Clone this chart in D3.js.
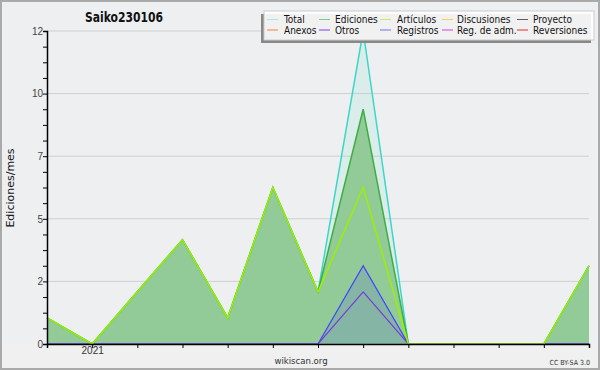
<!DOCTYPE html>
<html>
<head>
<meta charset="utf-8">
<script src="https://cdn.jsdelivr.net/npm/d3@7"></script>
<style>
  body { margin: 0; background: #f0f0f0; }
  svg { display: block; font-family: "DejaVu Sans Condensed", "DejaVu Sans", sans-serif; }
</style>
</head>
<body>
<div id="chart"></div>
<script>
// Data: monthly edits, Dec 2020 .. Dec 2021
const months = ['2020-12', '2021-01', '2021-02', '2021-03', '2021-04', '2021-05', '2021-06',
    '2021-07', '2021-08', '2021-09', '2021-10', '2021-11', '2021-12'];
const total     = [1, 0, 2, 4, 1, 6, 2, 12, 0, 0, 0, 0, 3];
const ediciones = [1, 0, 2, 4, 1, 6, 2, 9, 0, 0, 0, 0, 3];
const articulos = [1, 0, 2, 4, 1, 6, 2, 6, 0, 0, 0, 0, 3];
const registros = [0, 0, 0, 0, 0, 0, 0, 3, 0, 0, 0, 0, 0];
const otros     = [0, 0, 0, 0, 0, 0, 0, 2, 0, 0, 0, 0, 0];
const yTicks = [0, 2.4, 4.8, 7.2, 9.6, 12];
const xLabels = { '2021-01': '2021' };

const legendNames = ['Total', 'Ediciones', 'Artículos', 'Discusiones', 'Proyecto',
    'Anexos', 'Otros', 'Registros', 'Reg. de adm.', 'Reversiones'];
const legendColors = ['#a8e6e0', '#80cc8c', '#c4ee5a', '#f2d060', '#606060',
    '#f08040', '#8040e0', '#7070f0', '#d040e0', '#e03030'];

const W = 600, H = 370;
const margin = { left: 47, right: 11, top: 31, bottom: 26 };

const svg = d3.select('#chart').append('svg')
    .attr('width', W)
    .attr('height', H);

// background + frame
svg.append('rect').attr('x', 0).attr('y', 0).attr('width', W).attr('height', H)
    .attr('fill', '#eeeff1');
svg.append('rect').attr('x', 0).attr('y', H - margin.bottom).attr('width', W).attr('height', margin.bottom)
    .attr('fill', '#f0f0f0');
svg.append('rect').attr('x', 1).attr('y', 1).attr('width', W - 2).attr('height', H - 2)
    .attr('fill', 'none').attr('stroke', '#aaa').attr('stroke-width', 2);

const x = d3.scalePoint()
    .domain(months)
    .range([margin.left, W - margin.right]);

const y = d3.scaleLinear()
    .domain([0, 12])
    .range([H - margin.bottom, margin.top]);

// gridlines
svg.append('g')
    .selectAll('line')
    .data(yTicks.slice(1))
    .join('line')
    .attr('x1', margin.left).attr('x2', W - margin.right)
    .attr('y1', d => y(d)).attr('y2', d => y(d))
    .attr('stroke', '#cfcfcf').attr('stroke-width', 1);

// series helpers
const area = vals => d3.area()
    .x((d, i) => x(months[i]))
    .y0(y(0))
    .y1(d => y(d))(vals);
const line = vals => d3.line()
    .x((d, i) => x(months[i]))
    .y(d => y(d))(vals);

const plot = svg.append('g');

plot.append('path').attr('d', area(total)).attr('fill', '#50e0c8').attr('fill-opacity', 0.12);
plot.append('path').attr('d', line(total)).attr('fill', 'none').attr('stroke', '#3ed6c8').attr('stroke-width', 1.5);

plot.append('path').attr('d', area(ediciones)).attr('fill', '#92cb98');
plot.append('path').attr('d', line(ediciones)).attr('fill', 'none').attr('stroke', '#3caf43').attr('stroke-width', 1.5);

plot.append('path').attr('d', area(registros)).attr('fill', '#3c3cf0').attr('fill-opacity', 0.15);
plot.append('path').attr('d', line(registros)).attr('fill', 'none').attr('stroke', '#4040ff').attr('stroke-width', 1.2);
plot.append('path').attr('d', line(otros)).attr('fill', 'none').attr('stroke', '#7a3ad8').attr('stroke-width', 1.2);

plot.append('path').attr('d', line(articulos)).attr('fill', 'none').attr('stroke', '#9cf000').attr('stroke-width', 1.5);

// y axis
const yMinor = d3.range(0, 12.01, 0.6);
const yAxis = svg.append('g')
    .attr('transform', `translate(${margin.left},0)`)
    .call(d3.axisLeft(y).tickValues(yMinor).tickSize(4).tickFormat(d =>
        yTicks.some(t => Math.abs(t - d) < 1e-6) ? d3.format('.0f')(d) : ''));
yAxis.select('.domain').attr('stroke', '#000').attr('stroke-width', 1.5);
yAxis.selectAll('.tick line').attr('stroke', '#000');
yAxis.selectAll('.tick text').attr('fill', '#444').style('font-size', '10px').attr('x', -4);

// x axis
const xAxis = svg.append('g')
    .attr('transform', `translate(0,${H - margin.bottom})`)
    .call(d3.axisBottom(x).tickSize(4).tickFormat(d => xLabels[d] || ''));
xAxis.select('.domain').attr('stroke', '#000').attr('stroke-width', 1.5);
xAxis.selectAll('.tick line').attr('stroke', '#000');
xAxis.selectAll('.tick text').attr('fill', '#333').style('font-size', '10px').attr('y', 3);

// texts
svg.append('text')
    .attr('x', 85).attr('y', 22)
    .attr('textLength', 78).attr('lengthAdjust', 'spacingAndGlyphs')
    .style('font-size', '14px').style('font-weight', 'bold')
    .attr('fill', '#111')
    .text('Saiko230106');

svg.append('text')
    .attr('transform', `translate(14,188) rotate(-90)`)
    .attr('text-anchor', 'middle')
    .style('font-family', '"DejaVu Sans", sans-serif')
    .style('font-size', '11px')
    .attr('fill', '#111')
    .text('Ediciones/mes');

svg.append('text')
    .attr('x', 301).attr('y', 364)
    .attr('text-anchor', 'middle')
    .style('font-size', '9.5px')
    .attr('fill', '#333')
    .text('wikiscan.org');

svg.append('text')
    .attr('x', 590).attr('y', 365)
    .attr('text-anchor', 'end')
    .style('font-size', '7px')
    .attr('fill', '#333')
    .text('CC BY-SA 3.0');

// legend
const legend = svg.append('g');
legend.append('rect').attr('x', 261).attr('y', 14).attr('width', 330).attr('height', 29)
    .attr('fill', '#888');
legend.append('rect').attr('x', 264).attr('y', 11).attr('width', 330).attr('height', 29)
    .attr('fill', '#fff').attr('fill-opacity', 0.88).attr('stroke', '#ccc');

const colLine = [267, 319, 380, 442, 517];
const colText = [284, 335, 397, 457, 533];
const rowY = [19.5, 30];

const items = legend.selectAll('g.item')
    .data(legendNames.map((n, i) => ({ name: n, color: legendColors[i], col: i % 5, row: Math.floor(i / 5) })))
    .join('g').attr('class', 'item');

items.append('line')
    .attr('x1', d => colLine[d.col]).attr('x2', d => colLine[d.col] + 11)
    .attr('y1', d => rowY[d.row]).attr('y2', d => rowY[d.row])
    .attr('stroke', d => d.color).attr('stroke-width', 1);

items.append('text')
    .attr('x', d => colText[d.col]).attr('y', d => rowY[d.row] + 3.5)
    .style('font-size', '10px')
    .attr('fill', '#111')
    .text(d => d.name);
</script>
</body>
</html>
